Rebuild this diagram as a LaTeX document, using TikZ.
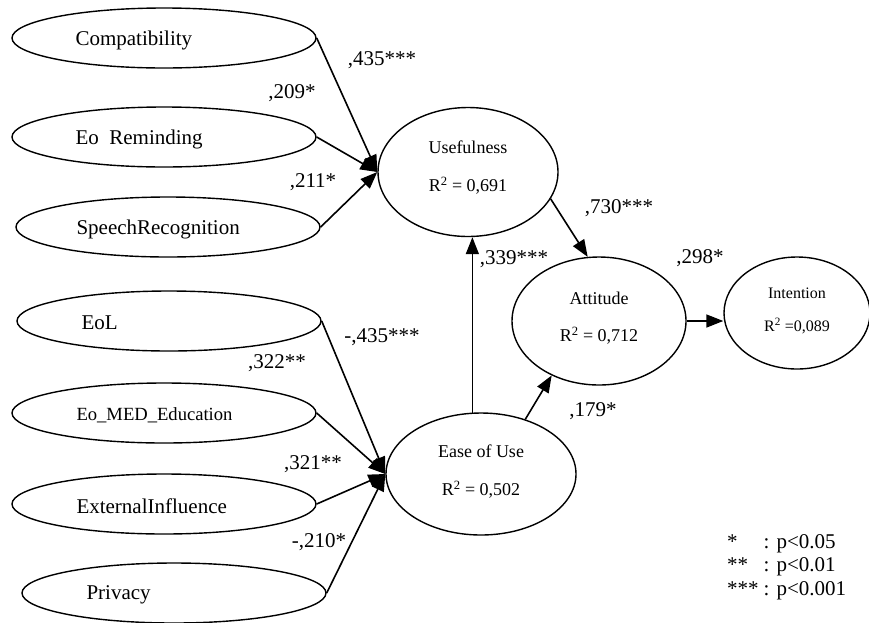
\documentclass[tikz,border=0pt]{standalone}
\usepackage{fontspec}
\setmainfont{Liberation Serif}
\usetikzlibrary{shapes.geometric,arrows.meta,positioning}

\tikzset{
  latent/.style={draw, ellipse, line width=1.4pt, inner sep=0pt},
  factor/.style={latent, minimum width=304pt, minimum height=60pt},
  factortext/.style={anchor=west, inner sep=0pt, font=\fontsize{21}{24}\selectfont},
  construct/.style={latent, align=center, font=\fontsize{18}{22}\selectfont},
  effect/.style={-{Triangle[length=17pt,width=13pt]}, line width=1.6pt},
  coef/.style={inner sep=0pt, font=\fontsize{21}{24}\selectfont},
}

\begin{document}
\begin{tikzpicture}[x=1pt, y=-1pt]
        \useasboundingbox (0,0) rectangle (869,622);
        % predictors
        \node[factor] (compat) at (164,38) {};
        \node[factor] (remind) at (164,137) {};
        \node[factor] (speech) at (168,227) {};
        \node[factor] (eol) at (169,321) {};
        \node[factor] (edu) at (164,413) {};
        \node[factor] (ext) at (164,504) {};
        \node[factor] (priv) at (174,593) {};
        \node[factortext] (compat-t) at ([xshift=64pt,yshift=-2pt]compat.west) {Compatibility};
        \node[factortext] (remind-t) at ([xshift=64pt,yshift=-2pt]remind.west) {Eo\ \ Reminding};
        \node[factortext] (speech-t) at ([xshift=61pt,yshift=-2pt]speech.west) {SpeechRecognition};
        \node[factortext] (eol-t) at ([xshift=65pt,yshift=-2pt]eol.west) {EoL};
        \node[factortext, font=\fontsize{18.6}{22}\selectfont] (edu-t) at ([xshift=65pt,yshift=-2pt]edu.west) {Eo\_MED\_Education};
        \node[factortext] (ext-t) at ([xshift=65pt,yshift=-2pt]ext.west) {ExternalInfluence};
        \node[factortext] (priv-t) at ([xshift=65pt,yshift=-2pt]priv.west) {Privacy};
        % constructs
        \node[construct, minimum width=180pt, minimum height=129pt] (use) at (468,172) {Usefulness\\[16pt]R\textsuperscript{2} = 0,691\\[-10pt]};
        \node[construct, minimum width=190pt, minimum height=122pt] (ease) at (481,474) {Ease of Use\\[16pt]R\textsuperscript{2} = 0,502\\[-14pt]};
        \node[construct, minimum width=174pt, minimum height=128pt] (att) at (599,321) {Attitude\\[15pt]R\textsuperscript{2} = 0,712\\[-14pt]};
        \node[construct, minimum width=146pt, minimum height=112pt, font=\fontsize{16}{19}\selectfont] (int) at (797,313) {Intention\\[14pt]R\textsuperscript{2} =0,089\\[-12pt]};
        % paths
        \draw[effect] (compat.east) -- (use.west);
        \draw[effect] (remind.east) -- (use.west);
        \draw[effect] (speech.east) -- (use.west);
        \draw[effect] (eol.east) -- (ease.west);
        \draw[effect] (edu.east) -- (ease.west);
        \draw[effect] (ext.east) -- (ease.west);
        \draw[effect] (priv.east) -- (ease.west);
        \draw[effect] (ease.98) -- (ease.98 |- use.south);
        \draw[effect] (ease.51) -- (att.229);
        \draw[effect] (use.-18) -- (att.100);
        \draw[effect] (att.east) -- (att.east -| int.west);
        % coefficients
        \node[coef] (c-compat) at (382,60) {,435***};
        \node[coef] (c-remind) at (292,93) {,209*};
        \node[coef] (c-speech) at (313,182) {,211*};
        \node[coef] (c-eol) at (382,337) {-,435***};
        \node[coef] (c-edu) at (277,363) {,322**};
        \node[coef] (c-ext) at (313,464) {,321**};
        \node[coef] (c-priv) at (319,542) {-,210*};
        \node[coef] (c-useatt) at (619,208) {,730***};
        \node[coef] (c-easeuse) at (514,259) {,339***};
        \node[coef] (c-attint) at (700,258) {,298*};
        \node[coef] (c-easeatt) at (593,411) {,179*};
        % legend
        \node[coef, anchor=west, font=\fontsize{21}{23.5}\selectfont] (legend) at (727,567)
            {\begin{tabular}{@{}l@{\hspace{5pt}}l@{}}{*} & : p<0.05\\{**} & : p<0.01\\{***} & : p<0.001\end{tabular}};
\end{tikzpicture}
\end{document}
